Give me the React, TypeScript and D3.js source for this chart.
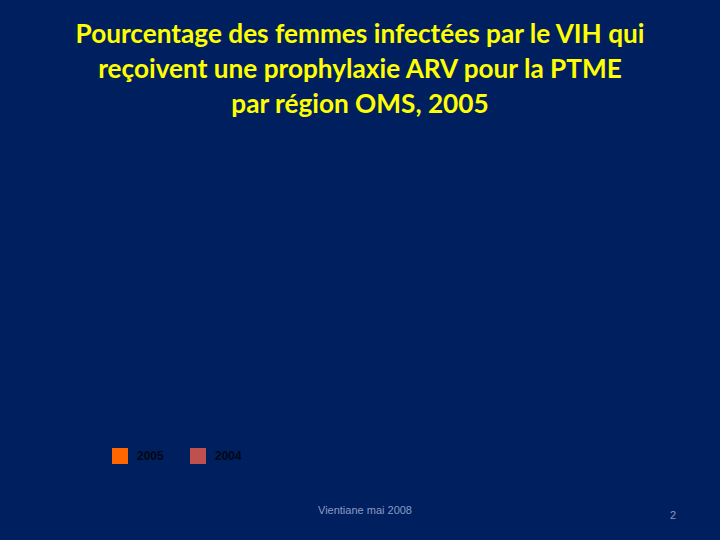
import React, { useEffect, useRef } from 'react';
import * as d3 from 'd3';

// Slide title, one entry per line
const titleLines = [
  'Pourcentage des femmes infectées par le VIH qui',
  'reçoivent une prophylaxie ARV pour la PTME',
  'par région OMS, 2005',
];

// Legend series (the plot area itself is empty in the source)
const seriesNames = ['2005', '2004'];
const seriesColors = ['#ff6600', '#c0504d'];

const footerText = 'Vientiane mai 2008';
const pageNumber = '2';

const App: React.FC = () => {
  const svgRef = useRef<SVGSVGElement>(null);

  useEffect(() => {
    if (!svgRef.current) return;
    document.body.style.margin = '0';

    const width = 720;
    const height = 540;

    // Clear previous drawing
    d3.select(svgRef.current).selectAll('*').remove();
    const svg = d3.select(svgRef.current);

    // Background
    svg.append('rect')
      .attr('width', width)
      .attr('height', height)
      .attr('fill', '#001f5f');

    // Title
    svg.append('g')
      .selectAll('text')
      .data(titleLines)
      .join('text')
      .attr('x', width / 2)
      .attr('y', (_, i) => 43 + i * 35)
      .attr('text-anchor', 'middle')
      .attr('fill', '#ffff00')
      .attr('font-family', 'Lato, "Open Sans", sans-serif')
      .attr('font-weight', 'bold')
      .attr('font-size', 26.2)
      .text(d => d);

    // Legend
    const legendX = d3.scalePoint<string>()
      .domain(seriesNames)
      .range([112, 190]);
    const color = d3.scaleOrdinal<string, string>()
      .domain(seriesNames)
      .range(seriesColors);

    const legend = svg.append('g')
      .selectAll('g')
      .data(seriesNames)
      .join('g')
      .attr('transform', d => `translate(${legendX(d)},448)`);

    legend.append('rect')
      .attr('width', 16)
      .attr('height', 16)
      .attr('fill', d => color(d));

    legend.append('text')
      .attr('x', 25)
      .attr('y', 12)
      .attr('fill', '#000814')
      .attr('font-family', '"Liberation Sans", Arial, sans-serif')
      .attr('font-weight', 'bold')
      .attr('font-size', 12)
      .text(d => d);

    // Footer
    svg.append('text')
      .attr('x', 365)
      .attr('y', 514)
      .attr('text-anchor', 'middle')
      .attr('fill', '#8a9bc4')
      .attr('font-family', '"Liberation Sans", Arial, sans-serif')
      .attr('font-size', 11)
      .text(footerText);

    svg.append('text')
      .attr('x', 673)
      .attr('y', 519)
      .attr('text-anchor', 'middle')
      .attr('fill', '#8a9bc4')
      .attr('font-family', '"Liberation Sans", Arial, sans-serif')
      .attr('font-size', 11)
      .text(pageNumber);
  }, []);

  return (
    <div style={{ position: 'fixed', left: 0, top: 0, width: 720, height: 540 }}>
      <svg ref={svgRef} width={720} height={540} style={{ display: 'block' }}></svg>
    </div>
  );
};

export default App;
